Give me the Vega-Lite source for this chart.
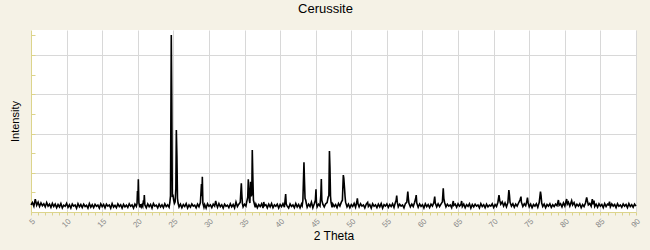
{
"$schema": "https://vega.github.io/schema/vega-lite/v6.json",
"width": 605, "height": 182,
"autosize": "none",
"padding": {"left": 31, "top": 30, "right": 14, "bottom": 38},
"background": "#F5F2E6",
"title": {"text": "Cerussite", "font": "Liberation Sans", "fontSize": 13, "fontWeight": "normal", "color": "#000000", "dx": -8, "offset": 14},
"config": {"view": {"fill": "#FFFFFF", "stroke": null}},
"data": {"values": [
{"t":5.0,"i":180},{"t":5.2,"i":240},{"t":5.4,"i":150},{"t":5.6,"i":330},{"t":5.8,"i":170},{"t":6.0,"i":250},{"t":6.2,"i":140},{"t":6.4,"i":230},{"t":6.6,"i":160},{"t":6.8,"i":210},{"t":7.0,"i":130},{"t":7.2,"i":240},{"t":7.4,"i":150},{"t":7.6,"i":200},{"t":7.8,"i":120},{"t":8.0,"i":220},
{"t":8.2,"i":140},{"t":8.4,"i":200},{"t":8.6,"i":110},{"t":8.8,"i":190},{"t":9.0,"i":130},{"t":9.2,"i":215},{"t":9.4,"i":105},{"t":9.6,"i":175},{"t":9.8,"i":145},{"t":10.0,"i":220},{"t":10.2,"i":120},{"t":10.4,"i":185},{"t":10.6,"i":100},{"t":10.8,"i":205},{"t":11.0,"i":150},{"t":11.2,"i":180},{"t":11.4,"i":95},{"t":11.6,"i":210},{"t":11.8,"i":130},{"t":12.0,"i":190},{"t":12.2,"i":115},{"t":12.4,"i":200},{"t":12.6,"i":140},{"t":12.8,"i":170},{"t":13.0,"i":100},{"t":13.2,"i":215},{"t":13.4,"i":125},{"t":13.6,"i":185},{"t":13.8,"i":110},{"t":14.0,"i":195},{"t":14.2,"i":145},{"t":14.4,"i":175},{"t":14.6,"i":100},{"t":14.8,"i":210},{"t":15.0,"i":135},{"t":15.2,"i":190},{"t":15.4,"i":105},{"t":15.6,"i":200},{"t":15.8,"i":150},{"t":16.0,"i":180},{"t":16.2,"i":95},{"t":16.4,"i":215},{"t":16.6,"i":125},{"t":16.8,"i":170},{"t":17.0,"i":110},{"t":17.2,"i":205},{"t":17.4,"i":140},{"t":17.6,"i":185},{"t":17.8,"i":100},{"t":18.0,"i":195},{"t":18.2,"i":130},{"t":18.4,"i":175},{"t":18.6,"i":115},{"t":18.8,"i":210},{"t":19.0,"i":145},{"t":19.2,"i":180},{"t":19.4,"i":100},{"t":19.6,"i":200},{"t":19.8,"i":140},
{"t":19.9,"i":220},{"t":19.96,"i":535},{"t":20.02,"i":300},{"t":20.08,"i":834},{"t":20.16,"i":230},{"t":20.3,"i":120},{"t":20.4,"i":200},{"t":20.5,"i":130},{"t":20.6,"i":180},{"t":20.7,"i":140},{"t":20.8,"i":300},{"t":20.86,"i":200},{"t":20.92,"i":433},{"t":21.0,"i":180},{"t":21.2,"i":110},{"t":21.4,"i":205},{"t":21.6,"i":135},{"t":21.8,"i":190},{"t":22.0,"i":100},{"t":22.2,"i":215},{"t":22.4,"i":150},{"t":22.6,"i":175},{"t":22.8,"i":105},{"t":23.0,"i":200},{"t":23.2,"i":130},{"t":23.4,"i":185},{"t":23.6,"i":110},{"t":23.8,"i":210},{"t":24.0,"i":140},{"t":24.2,"i":180},{"t":24.4,"i":120},{"t":24.5,"i":230},{"t":24.6,"i":410},{"t":24.71,"i":4510},{"t":24.78,"i":2810},{"t":24.85,"i":410},{"t":24.95,"i":420},{"t":25.05,"i":300},{"t":25.15,"i":220},{"t":25.25,"i":260},{"t":25.35,"i":600},{"t":25.42,"i":2090},{"t":25.5,"i":1430},{"t":25.58,"i":350},{"t":25.66,"i":230},{"t":25.8,"i":130},{"t":26.0,"i":200},{"t":26.2,"i":110},{"t":26.4,"i":190},{"t":26.6,"i":140},{"t":26.8,"i":215},{"t":27.0,"i":100},{"t":27.2,"i":180},{"t":27.4,"i":125},{"t":27.6,"i":205},{"t":27.8,"i":150},{"t":28.0,"i":175},{"t":28.2,"i":105},{"t":28.4,"i":200},{"t":28.6,"i":135},{"t":28.8,"i":240},{"t":28.95,"i":710},{"t":29.02,"i":400},{"t":29.07,"i":900},{"t":29.15,"i":220},{"t":29.3,"i":120},{"t":29.4,"i":190},{"t":29.6,"i":100},{"t":29.8,"i":210},{"t":30.0,"i":145},{"t":30.2,"i":180},{"t":30.4,"i":110},{"t":30.6,"i":200},{"t":30.8,"i":150},{"t":30.95,"i":280},{"t":31.05,"i":200},{"t":31.2,"i":120},{"t":31.4,"i":215},{"t":31.6,"i":135},{"t":31.8,"i":185},{"t":32.0,"i":100},{"t":32.2,"i":200},{"t":32.4,"i":145},{"t":32.6,"i":175},{"t":32.8,"i":110},{"t":33.0,"i":210},{"t":33.2,"i":130},{"t":33.4,"i":190},{"t":33.6,"i":105},{"t":33.8,"i":255},{"t":34.0,"i":140},{"t":34.2,"i":200},{"t":34.4,"i":250},{"t":34.55,"i":731},{"t":34.62,"i":460},{"t":34.7,"i":220},{"t":34.8,"i":130},{"t":35.0,"i":200},{"t":35.2,"i":150},{"t":35.3,"i":250},{"t":35.45,"i":380},{"t":35.53,"i":834},{"t":35.6,"i":561},{"t":35.67,"i":300},{"t":35.75,"i":230},{"t":35.85,"i":770},{"t":35.95,"i":400},{"t":36.02,"i":450},{"t":36.09,"i":1581},{"t":36.16,"i":960},{"t":36.25,"i":300},{"t":36.35,"i":230},{"t":36.5,"i":120},{"t":36.6,"i":200},{"t":36.8,"i":110},{"t":37.0,"i":190},{"t":37.2,"i":140},{"t":37.4,"i":210},{"t":37.6,"i":100},{"t":37.7,"i":255},{"t":37.8,"i":160},{"t":38.0,"i":185},{"t":38.2,"i":105},{"t":38.4,"i":200},{"t":38.6,"i":130},{"t":38.8,"i":215},{"t":39.0,"i":110},{"t":39.2,"i":180},{"t":39.4,"i":145},{"t":39.6,"i":200},{"t":39.8,"i":100},{"t":40.0,"i":190},{"t":40.2,"i":135},{"t":40.4,"i":210},{"t":40.6,"i":120},{"t":40.78,"i":460},{"t":40.86,"i":200},{"t":41.0,"i":150},{"t":41.2,"i":100},{"t":41.4,"i":205},{"t":41.6,"i":140},{"t":41.8,"i":180},{"t":42.0,"i":110},{"t":42.2,"i":215},{"t":42.4,"i":130},{"t":42.6,"i":190},{"t":42.8,"i":105},{"t":43.0,"i":200},{"t":43.1,"i":160},{"t":43.2,"i":300},{"t":43.35,"i":1270},{"t":43.42,"i":816},{"t":43.5,"i":350},{"t":43.6,"i":300},{"t":43.7,"i":200},{"t":43.8,"i":120},{"t":44.0,"i":200},{"t":44.2,"i":140},{"t":44.4,"i":250},{"t":44.6,"i":110},{"t":44.8,"i":210},{"t":44.95,"i":300},{"t":45.04,"i":580},{"t":45.1,"i":250},{"t":45.2,"i":130},{"t":45.4,"i":200},{"t":45.6,"i":150},{"t":45.72,"i":433},{"t":45.79,"i":841},{"t":45.86,"i":300},{"t":46.0,"i":200},{"t":46.2,"i":130},{"t":46.4,"i":210},{"t":46.6,"i":240},{"t":46.75,"i":380},{"t":46.85,"i":420},{"t":46.93,"i":1555},{"t":47.0,"i":1147},{"t":47.08,"i":400},{"t":47.15,"i":250},{"t":47.3,"i":120},{"t":47.4,"i":210},{"t":47.6,"i":140},{"t":47.8,"i":190},{"t":48.0,"i":110},{"t":48.2,"i":215},{"t":48.4,"i":150},{"t":48.6,"i":250},{"t":48.75,"i":300},{"t":48.88,"i":943},{"t":48.95,"i":859},{"t":49.05,"i":604},{"t":49.12,"i":400},{"t":49.2,"i":250},{"t":49.4,"i":130},{"t":49.6,"i":200},{"t":49.8,"i":110},{"t":50.0,"i":190},{"t":50.2,"i":140},{"t":50.4,"i":220},{"t":50.6,"i":120},{"t":50.78,"i":260},{"t":50.85,"i":350},{"t":50.95,"i":200},{"t":51.1,"i":130},{"t":51.3,"i":210},{"t":51.5,"i":150},{"t":51.7,"i":180},{"t":51.9,"i":105},{"t":52.1,"i":200},{"t":52.3,"i":247},{"t":52.4,"i":140},{"t":52.6,"i":190},{"t":52.8,"i":100},{"t":53.0,"i":210},{"t":53.2,"i":145},{"t":53.4,"i":180},{"t":53.6,"i":110},{"t":53.8,"i":200},{"t":54.0,"i":130},{"t":54.2,"i":215},{"t":54.4,"i":100},{"t":54.6,"i":185},{"t":54.8,"i":150},{"t":55.0,"i":205},{"t":55.2,"i":120},{"t":55.4,"i":190},{"t":55.6,"i":140},{"t":55.8,"i":210},{"t":56.0,"i":115},{"t":56.2,"i":250},{"t":56.3,"i":300},{"t":56.38,"i":416},{"t":56.46,"i":250},{"t":56.6,"i":130},{"t":56.8,"i":200},{"t":57.0,"i":150},{"t":57.2,"i":180},{"t":57.4,"i":105},{"t":57.6,"i":215},{"t":57.8,"i":250},{"t":57.94,"i":518},{"t":58.02,"i":350},{"t":58.1,"i":220},{"t":58.3,"i":130},{"t":58.5,"i":200},{"t":58.7,"i":140},{"t":58.9,"i":250},{"t":59.05,"i":350},{"t":59.12,"i":433},{"t":59.2,"i":230},{"t":59.4,"i":120},{"t":59.6,"i":205},{"t":59.8,"i":145},{"t":60.0,"i":185},{"t":60.2,"i":100},{"t":60.4,"i":210},{"t":60.6,"i":135},{"t":60.8,"i":190},{"t":61.0,"i":115},{"t":61.2,"i":200},{"t":61.4,"i":150},{"t":61.6,"i":240},{"t":61.72,"i":391},{"t":61.8,"i":230},{"t":62.0,"i":130},{"t":62.2,"i":210},{"t":62.4,"i":140},{"t":62.6,"i":200},{"t":62.8,"i":260},{"t":62.92,"i":604},{"t":63.0,"i":350},{"t":63.1,"i":250},{"t":63.3,"i":130},{"t":63.5,"i":200},{"t":63.7,"i":150},{"t":63.9,"i":180},{"t":64.1,"i":110},{"t":64.33,"i":280},{"t":64.4,"i":170},{"t":64.6,"i":200},{"t":64.8,"i":120},{"t":65.0,"i":210},{"t":65.2,"i":150},{"t":65.4,"i":190},{"t":65.5,"i":280},{"t":65.6,"i":140},{"t":65.8,"i":200},{"t":66.0,"i":110},{"t":66.2,"i":185},{"t":66.4,"i":145},{"t":66.6,"i":210},{"t":66.8,"i":100},{"t":67.0,"i":190},{"t":67.2,"i":130},{"t":67.4,"i":200},{"t":67.6,"i":150},{"t":67.8,"i":180},{"t":68.0,"i":105},{"t":68.2,"i":215},{"t":68.4,"i":140},{"t":68.6,"i":185},{"t":68.8,"i":110},{"t":69.0,"i":200},{"t":69.2,"i":130},{"t":69.4,"i":175},{"t":69.6,"i":150},{"t":69.8,"i":210},{"t":70.0,"i":115},{"t":70.2,"i":190},{"t":70.4,"i":140},{"t":70.6,"i":250},{"t":70.75,"i":433},{"t":70.85,"i":300},{"t":71.0,"i":200},{"t":71.2,"i":260},{"t":71.4,"i":150},{"t":71.6,"i":230},{"t":71.8,"i":130},{"t":72.0,"i":240},{"t":72.14,"i":561},{"t":72.22,"i":430},{"t":72.3,"i":250},{"t":72.5,"i":150},{"t":72.7,"i":210},{"t":72.9,"i":120},{"t":73.1,"i":200},{"t":73.3,"i":150},{"t":73.5,"i":230},{"t":73.7,"i":306},{"t":73.84,"i":391},{"t":73.9,"i":250},{"t":74.1,"i":140},{"t":74.3,"i":210},{"t":74.5,"i":160},{"t":74.65,"i":260},{"t":74.75,"i":365},{"t":74.85,"i":230},{"t":75.0,"i":130},{"t":75.2,"i":200},{"t":75.4,"i":110},{"t":75.6,"i":190},{"t":75.8,"i":150},{"t":76.0,"i":210},{"t":76.2,"i":120},{"t":76.4,"i":240},{"t":76.58,"i":518},{"t":76.66,"i":416},{"t":76.75,"i":230},{"t":76.9,"i":140},{"t":77.1,"i":200},{"t":77.3,"i":110},{"t":77.5,"i":190},{"t":77.7,"i":150},{"t":77.9,"i":210},{"t":78.1,"i":120},{"t":78.3,"i":185},{"t":78.5,"i":140},{"t":78.7,"i":200},{"t":78.9,"i":160},{"t":79.1,"i":306},{"t":79.2,"i":170},{"t":79.4,"i":210},{"t":79.6,"i":130},{"t":79.8,"i":230},{"t":80.0,"i":150},{"t":80.15,"i":260},{"t":80.26,"i":331},{"t":80.35,"i":200},{"t":80.5,"i":250},{"t":80.7,"i":150},{"t":80.96,"i":288},{"t":81.1,"i":180},{"t":81.3,"i":240},{"t":81.5,"i":130},{"t":81.7,"i":200},{"t":81.9,"i":150},{"t":82.1,"i":210},{"t":82.3,"i":110},{"t":82.5,"i":190},{"t":82.7,"i":140},{"t":82.9,"i":230},{"t":83.07,"i":374},{"t":83.15,"i":300},{"t":83.3,"i":180},{"t":83.5,"i":220},{"t":83.7,"i":150},{"t":83.86,"i":331},{"t":83.95,"i":200},{"t":84.1,"i":288},{"t":84.2,"i":140},{"t":84.4,"i":200},{"t":84.6,"i":120},{"t":84.8,"i":210},{"t":85.0,"i":150},{"t":85.2,"i":190},{"t":85.4,"i":110},{"t":85.6,"i":215},{"t":85.8,"i":140},{"t":86.0,"i":200},{"t":86.15,"i":180},{"t":86.28,"i":263},{"t":86.4,"i":130},{"t":86.6,"i":205},{"t":86.8,"i":150},{"t":87.0,"i":190},{"t":87.2,"i":110},{"t":87.4,"i":210},{"t":87.6,"i":145},{"t":87.8,"i":180},{"t":88.0,"i":120},{"t":88.2,"i":205},{"t":88.4,"i":150},{"t":88.6,"i":190},{"t":88.8,"i":110},{"t":89.0,"i":215},{"t":89.2,"i":140},{"t":89.4,"i":185},{"t":89.6,"i":120},{"t":89.8,"i":200},{"t":90.0,"i":150}
]},
"mark": {"type": "line", "color": "#000000", "strokeWidth": 1.6},
"encoding": {
  "x": {"field": "t", "type": "quantitative",
    "scale": {"domain": [5, 90], "nice": false, "zero": false},
    "axis": {"title": "2 Theta", "titleFont": "Liberation Sans", "titleFontSize": 12, "titleFontWeight": "normal", "titleColor": "#000000", "titlePadding": 2,
      "values": [5,6,7,8,9,10,11,12,13,14,15,16,17,18,19,20,21,22,23,24,25,26,27,28,29,30,31,32,33,34,35,36,37,38,39,40,41,42,43,44,45,46,47,48,49,50,51,52,53,54,55,56,57,58,59,60,61,62,63,64,65,66,67,68,69,70,71,72,73,74,75,76,77,78,79,80,81,82,83,84,85,86,87,88,89,90],
      "labelExpr": "datum.value % 5 === 0 ? datum.label : ''",
      "labelAngle": -45, "labelFont": "Liberation Sans", "labelFontSize": 8, "labelColor": "#888888", "labelOverlap": false, "labelFlush": false, "labelPadding": 2,
      "tickColor": "#DCD48C", "tickSize": 3, "domainColor": "#DCD48C",
      "grid": true, "gridColor": "#D8D8D8",
      "gridOpacity": {"condition": {"test": "datum.value % 5 === 0 && datum.value > 5", "value": 1}, "value": 0}}},
  "y": {"field": "i", "type": "quantitative",
    "scale": {"domain": [0, 4640], "nice": false},
    "axis": {"title": "Intensity", "titleFont": "Liberation Sans", "titleFontSize": 11, "titleFontWeight": "normal", "titleColor": "#000000", "titlePadding": 10,
      "labels": false, "values": [0,500,1000,1500,2000,2500,3000,3500,4000,4500],
      "tickColor": "#DCD48C", "tickSize": -4, "domainColor": "#DCD48C",
      "grid": true, "gridColor": "#D8D8D8",
      "gridOpacity": {"condition": {"test": "datum.value % 1000 === 0 && datum.value > 0", "value": 1}, "value": 0}}}
}
}
